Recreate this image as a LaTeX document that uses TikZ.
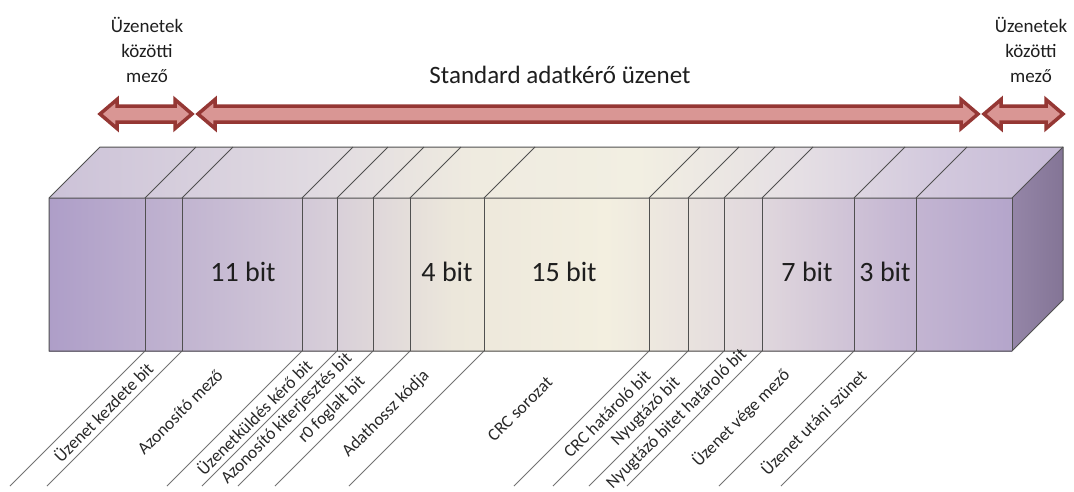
\documentclass[tikz,border=0pt]{standalone}
\usepackage{fontspec}
\setmainfont{Carlito}
\usetikzlibrary{calc}
\definecolor{arrfill}{RGB}{217,150,148}
\definecolor{arrline}{RGB}{149,55,52}
\definecolor{edgecol}{RGB}{80,80,80}
\definecolor{txtcol}{RGB}{30,30,30}
\definecolor{lblcol}{RGB}{40,40,40}
\definecolor{rightface}{RGB}{143,127,163}
% front face stops
\definecolor{fpA}{RGB}{174,158,200}
\definecolor{fpB}{RGB}{210,200,216}
\definecolor{fpC}{RGB}{236,231,219}
\definecolor{fpD}{RGB}{243,239,224}
\definecolor{fpE}{RGB}{224,215,221}
\definecolor{fpF}{RGB}{198,184,211}
\definecolor{fpG}{RGB}{180,165,203}
% top face stops
\definecolor{tpA}{RGB}{204,194,216}
\definecolor{tpB}{RGB}{224,218,225}
\definecolor{tpC}{RGB}{239,235,224}
\definecolor{tpD}{RGB}{242,239,226}
\definecolor{tpE}{RGB}{229,223,228}
\definecolor{tpF}{RGB}{210,200,221}
\definecolor{tpG}{RGB}{198,186,214}
\pgfdeclarehorizontalshading{frontsh}{100bp}{color(0bp)=(fpA); color(25bp)=(fpA); color(38bp)=(fpB); color(46bp)=(fpC); color(54bp)=(fpD); color(62bp)=(fpE); color(69bp)=(fpF); color(75bp)=(fpG); color(100bp)=(fpG)}
\pgfdeclarehorizontalshading{topsh}{100bp}{color(0bp)=(tpA); color(25bp)=(tpA); color(38bp)=(tpB); color(46bp)=(tpC); color(54bp)=(tpD); color(62bp)=(tpE); color(69bp)=(tpF); color(75bp)=(tpG); color(100bp)=(tpG)}
\tikzset{
  blockarr/.style={draw=arrline, fill=arrfill, line width=3.5pt, line join=miter},
  boxedge/.style={draw=edgecol, line width=1pt},
  divline/.style={draw=edgecol, line width=0.9pt},
  leadline/.style={draw=edgecol!80, line width=0.8pt},
  toplbl/.style={text=txtcol, align=center, inner sep=0pt, font=\fontsize{19}{25}\selectfont},
  titlelbl/.style={text=txtcol, inner sep=0pt, font=\fontsize{25}{30}\selectfont},
  bitlbl/.style={text=txtcol, inner sep=0pt, font=\fontsize{28}{32}\selectfont},
  fieldlbl/.style={text=lblcol, inner sep=0pt, rotate=45, font=\fontsize{17.5}{19}\selectfont}
}
\newcommand\blockarrow[3]{%
  \draw[blockarr] (#1,#3) -- ({#1+17},{#3-14.5}) -- ({#1+17},{#3-8}) -- ({#2-17},{#3-8}) -- ({#2-17},{#3-14.5}) -- (#2,#3) -- ({#2-17},{#3+14.5}) -- ({#2-17},{#3+8}) -- ({#1+17},{#3+8}) -- ({#1+17},{#3+14.5}) -- cycle;}
\begin{document}
\begin{tikzpicture}[x=1pt,y=-1pt]
\useasboundingbox (0,0) rectangle (1074,491);
\fill[white] (0,0) rectangle (1074,491);
% arrows
\blockarrow{100}{192}{114}
\blockarrow{198}{978}{114}
\blockarrow{984}{1063}{114}
% top labels
\node[toplbl] (lgapL) at (147,50) {Üzenetek\\közötti\\mező};
\node[toplbl] (lgapR) at (1031,50) {Üzenetek\\közötti\\mező};
\node[titlelbl, anchor=base] (title) at (560,83) {Standard adatkérő üzenet};
% box faces
\shade[shading=topsh] (49,198) -- (100,147) -- (1063,147) -- (1012,198) -- cycle;
\shade[shading=frontsh] (49,198) rectangle (1012,351);
\shade[left color=rightface!95!white, right color=rightface!92!black] (1012,198) -- (1063,147) -- (1063,300) -- (1012,351) -- cycle;
% dividers
\foreach \x in {145,182,302,337,373,410,484,649,688,724,762,854,916}{
  \coordinate (t\x) at (\x,198);
  \coordinate (b\x) at (\x,351);
  \draw[divline] (t\x) -- ++(51,-51);
  \draw[divline] (t\x) -- (b\x);
  \draw[leadline] (b\x) -- ++(-135,135);
}
% outlines
\draw[boxedge, line join=round] (49,198) -- (100,147) -- (1063,147) -- (1063,300) -- (1012,351) -- (49,351) -- cycle;
\draw[boxedge] (49,198) -- (1012,198) -- (1063,147);
\draw[boxedge] (1012,198) -- (1012,351);
% bit labels
\node[bitlbl] (n11) at (243,272) {11 bit};
\node[bitlbl] (n4) at (447,272) {4 bit};
\node[bitlbl] (n15) at (564,272) {15 bit};
\node[bitlbl] (n7) at (807,272) {7 bit};
\node[bitlbl] (n3) at (885,272) {3 bit};
% field labels
\node[fieldlbl] (f1) at (103,412) {Üzenet kezdete bit};
\node[fieldlbl] (f2) at (180,412) {Azonosító mező};
\node[fieldlbl] (f3) at (254,417) {Üzenetküldés kérő bit};
\node[fieldlbl] (f4) at (287,419) {Azonosító kiterjesztés bit};
\node[fieldlbl] (f5) at (332,410) {r0 foglalt bit};
\node[fieldlbl] (f6) at (386,414) {Adathossz kódja};
\node[fieldlbl] (f7) at (520,409) {CRC sorozat};
\node[fieldlbl] (f8) at (607,414) {CRC határoló bit};
\node[fieldlbl] (f9) at (646,412) {Nyugtázó bit};
\node[fieldlbl] (f10) at (677,419) {Nyugtázó bitet határoló bit};
\node[fieldlbl] (f11) at (741,418) {Üzenet vége mező};
\node[fieldlbl] (f12) at (813,422) {Üzenet utáni szünet};
\end{tikzpicture}
\end{document}
